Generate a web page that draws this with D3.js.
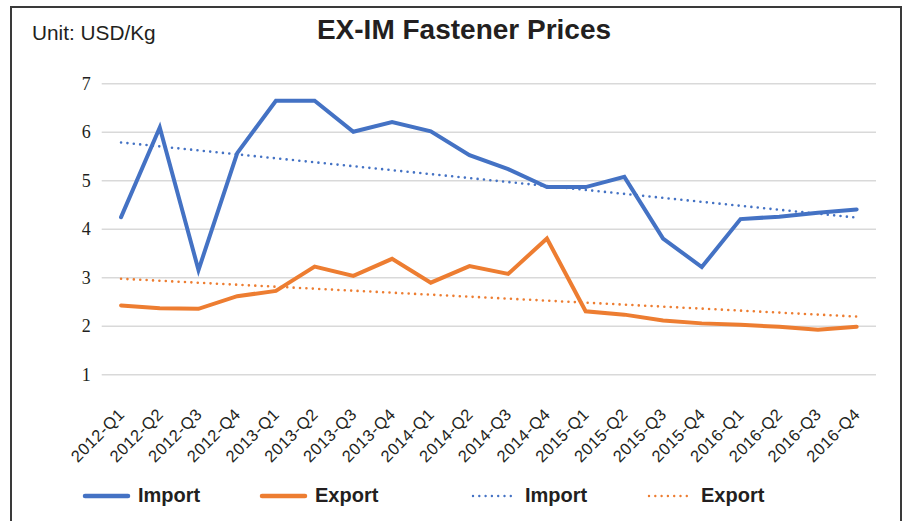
<!DOCTYPE html>
<html>
<head>
<meta charset="utf-8">
<title>EX-IM Fastener Prices</title>
<script src="https://cdn.jsdelivr.net/npm/d3@7/dist/d3.min.js"></script>
<style>
  html, body { margin: 0; padding: 0; background: #fff; }
  #chart svg { display: block; }
</style>
</head>
<body>
<div id="chart"></div>
<script>
// Data (USD/Kg per quarter)
const quarters = [
  '2012-Q1', '2012-Q2', '2012-Q3', '2012-Q4',
  '2013-Q1', '2013-Q2', '2013-Q3', '2013-Q4',
  '2014-Q1', '2014-Q2', '2014-Q3', '2014-Q4',
  '2015-Q1', '2015-Q2', '2015-Q3', '2015-Q4',
  '2016-Q1', '2016-Q2', '2016-Q3', '2016-Q4'
];
const importPrices = [4.24, 6.09, 3.15, 5.56, 6.64, 6.64, 6.00, 6.20, 6.01, 5.52,
                      5.23, 4.86, 4.86, 5.07, 3.80, 3.21, 4.20, 4.25, 4.33, 4.40];
const exportPrices = [2.42, 2.36, 2.35, 2.61, 2.72, 3.22, 3.03, 3.38, 2.89, 3.23,
                      3.07, 3.80, 2.30, 2.23, 2.11, 2.05, 2.02, 1.98, 1.92, 1.98];
// trendline end points (first and last quarter)
const importTrend = [5.78, 4.23];
const exportTrend = [2.97, 2.19];
const yTicks = [1, 2, 3, 4, 5, 6, 7];
const legendItems = [
  { label: 'Import', color: '#4472c4', dotted: false },
  { label: 'Export', color: '#ed7d31', dotted: false },
  { label: 'Import', color: '#4472c4', dotted: true },
  { label: 'Export', color: '#ed7d31', dotted: true }
];

class FastenerPriceChart {
  constructor(elementId, width, height) {
    this.elementId = elementId;
    this.width = width;
    this.height = height;
    this.plot = { left: 101.7, right: 876, top: 83.3, bottom: 374.3 };
    this.svg = null;
  }

  init() {
    this.svg = d3.select(`#${this.elementId}`).append('svg')
      .attr('width', this.width)
      .attr('height', this.height);

    this.x = d3.scalePoint()
      .domain(quarters)
      .range([this.plot.left, this.plot.right])
      .padding(0.5);

    this.y = d3.scaleLinear()
      .domain([1, 7])
      .range([this.plot.bottom, this.plot.top]);

    this.drawFrame();
    this.drawAxes();
    this.drawTrends();
    this.drawSeries();
    this.drawLegend();
  }

  drawFrame() {
    this.svg.append('rect')
      .attr('x', 11).attr('y', 7)
      .attr('width', 890).attr('height', 600)
      .attr('fill', 'none')
      .attr('stroke', '#3a3a3a')
      .attr('stroke-width', 2);

    this.svg.append('text')
      .attr('x', 464).attr('y', 38.5)
      .attr('text-anchor', 'middle')
      .style('font-family', '"Liberation Sans", Arial, sans-serif')
      .style('font-weight', 'bold')
      .style('font-size', '28px')
      .attr('fill', '#231f20')
      .text('EX-IM Fastener Prices');

    this.svg.append('text')
      .attr('x', 32).attr('y', 39.5)
      .style('font-family', '"Liberation Sans", Arial, sans-serif')
      .style('font-size', '20.8px')
      .attr('fill', '#231f20')
      .text('Unit: USD/Kg');
  }

  drawAxes() {
    // horizontal gridlines + serif value labels
    const yAxis = d3.axisLeft(this.y)
      .tickValues(yTicks)
      .tickSize(-(this.plot.right - this.plot.left))
      .tickPadding(11)
      .tickFormat(d3.format('d'));

    const gy = this.svg.append('g')
      .attr('transform', `translate(${this.plot.left},0)`)
      .call(yAxis);
    gy.select('.domain').remove();
    gy.selectAll('.tick line')
      .attr('stroke', '#d9d9d9')
      .attr('stroke-width', 1.5);
    gy.selectAll('.tick text')
      .style('font-family', '"Liberation Serif", "Times New Roman", serif')
      .style('font-size', '18px')
      .attr('fill', '#231f20');

    // rotated quarter labels
    const xAxis = d3.axisBottom(this.x).tickSize(0).tickPadding(0);
    const gx = this.svg.append('g')
      .attr('transform', `translate(0,${this.plot.bottom})`)
      .call(xAxis);
    gx.select('.domain').remove();
    gx.selectAll('.tick text')
      .attr('y', 0).attr('dy', 0)
      .attr('text-anchor', 'end')
      .attr('transform', 'translate(4,41) rotate(-45)')
      .style('font-family', '"Liberation Sans", Arial, sans-serif')
      .style('font-size', '16.5px')
      .style('letter-spacing', '0.5px')
      .attr('fill', '#231f20');
  }

  drawTrends() {
    const ends = [quarters[0], quarters[quarters.length - 1]];
    const trends = [
      { values: importTrend, color: '#4472c4' },
      { values: exportTrend, color: '#ed7d31' }
    ];
    const line = d3.line()
      .x((d, i) => this.x(ends[i]))
      .y(d => this.y(d));

    this.svg.selectAll('path.trend')
      .data(trends)
      .enter().append('path')
      .attr('class', 'trend')
      .attr('d', d => line(d.values))
      .attr('fill', 'none')
      .attr('stroke', d => d.color)
      .attr('stroke-width', 2.6)
      .attr('stroke-linecap', 'round')
      .attr('stroke-dasharray', '0 6.4');
  }

  drawSeries() {
    const series = [
      { values: importPrices, color: '#4472c4' },
      { values: exportPrices, color: '#ed7d31' }
    ];
    const line = d3.line()
      .x((d, i) => this.x(quarters[i]))
      .y(d => this.y(d));

    this.svg.selectAll('path.series')
      .data(series)
      .enter().append('path')
      .attr('class', 'series')
      .attr('d', d => line(d.values))
      .attr('fill', 'none')
      .attr('stroke', d => d.color)
      .attr('stroke-width', 4)
      .attr('stroke-linejoin', 'miter')
      .attr('stroke-linecap', 'round');
  }

  drawLegend() {
    const xs = [85, 262, 473, 649];
    const g = this.svg.append('g').attr('class', 'legend');
    const items = g.selectAll('g')
      .data(legendItems)
      .enter().append('g')
      .attr('transform', (d, i) => `translate(${xs[i]},496)`);

    items.append('line')
      .attr('x1', 0).attr('x2', d => d.dotted ? 38 : 43)
      .attr('y1', 0).attr('y2', 0)
      .attr('stroke', d => d.color)
      .attr('stroke-width', d => d.dotted ? 2.4 : 4.5)
      .attr('stroke-linecap', 'round')
      .attr('stroke-dasharray', d => d.dotted ? '0 6.3' : null);

    items.append('text')
      .attr('x', d => d.dotted ? 52 : 53)
      .attr('y', 6)
      .style('font-family', '"Liberation Sans", Arial, sans-serif')
      .style('font-weight', 'bold')
      .style('font-size', '20px')
      .attr('fill', '#231f20')
      .text(d => d.label);
  }
}

const chart = new FastenerPriceChart('chart', 905, 521);
chart.init();
</script>
</body>
</html>
